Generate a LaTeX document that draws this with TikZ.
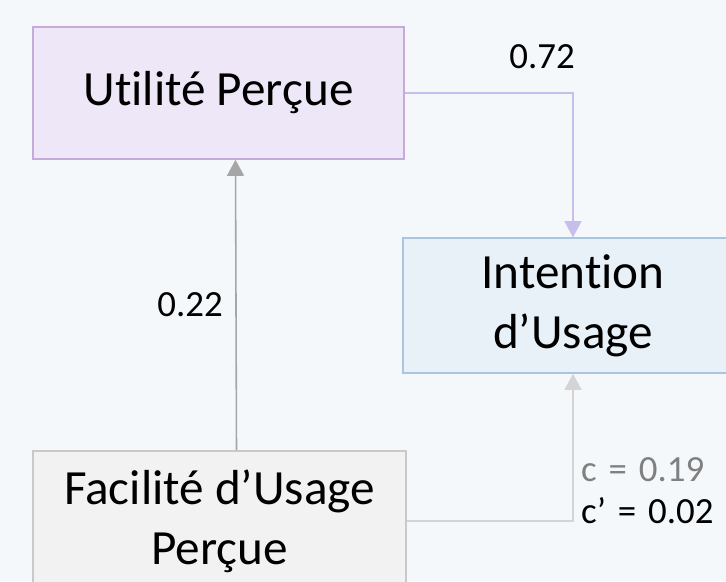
\documentclass[tikz,border=0pt]{standalone}
\usepackage{fontspec}
\setmainfont{Carlito}[Ligatures={NoCommon}]
\usepackage{tikz}
\usetikzlibrary{arrows.meta, positioning, calc}

\definecolor{bgcol}{HTML}{F5F8FA}
\definecolor{upfill}{HTML}{EDE7F8}
\definecolor{updraw}{HTML}{C6ABDA}
\definecolor{iufill}{HTML}{E9F1F8}
\definecolor{iudraw}{HTML}{A9C5E2}
\definecolor{fupfill}{HTML}{F2F2F2}
\definecolor{fupdraw}{HTML}{C9C9C9}
\definecolor{arrpurple}{HTML}{C8BEEC}
\definecolor{arrgray}{HTML}{A6A6A6}
\definecolor{arrlight}{HTML}{D4D4D4}
\definecolor{labgray}{HTML}{808080}

\begin{document}
\begin{tikzpicture}[x=0.02cm, y=-0.02cm,
		box/.style={rectangle, draw, line width=0.9pt, align=center, font=\fontsize{28}{34}\selectfont},
		coef/.style={font=\fontsize{21}{25}\selectfont},
		link/.style={line width=0.9pt, -{Triangle[width=0.34cm, length=0.32cm]}}]
		
		\fill[bgcol] (0,0) rectangle (726,581);
		\useasboundingbox (0,0) rectangle (726,581);
		
		\node[box, fill=upfill, draw=updraw, minimum width=7.42cm, minimum height=2.64cm] (UP) at (218.5,93) {Utilité Perçue};
		\node[box, fill=iufill, draw=iudraw, minimum width=6.8cm, minimum height=2.7cm] (IU) at (573,305.5) {Intention\\d’Usage};
		\node[box, fill=fupfill, draw=fupdraw, minimum width=7.46cm, minimum height=2.8cm] (FUP) at (219.5,521) {Facilité d’Usage\\Perçue};
		
		\draw[link, arrpurple] (UP.east) -| (IU.north);
		\draw[link, arrgray] ([xshift=0.34cm]FUP.north) -- ([xshift=0.34cm]UP.south);
		\draw[link, arrlight] (FUP.east) -| (IU.south);
		
		\node[coef] (b72) at (542,57) {0.72};
		\node[coef] (b22) at (190,305) {0.22};
		\node[coef, anchor=west, text=labgray] (cc) at (575,470) {c\hspace{0.07cm} = \hspace{0.07cm}0.19};
		\node[coef, anchor=west] (cp) at (575,511) {c’\hspace{0.07cm} = \hspace{0.07cm}0.02};
	\end{tikzpicture}
\end{document}
